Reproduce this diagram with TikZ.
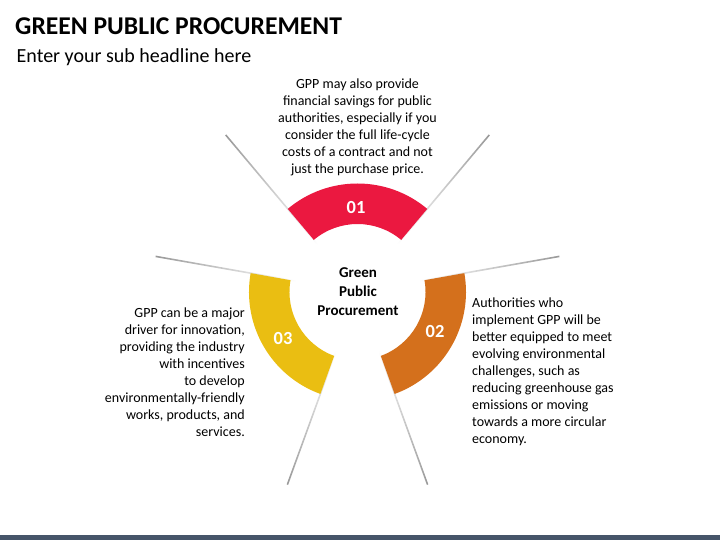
\documentclass[tikz,border=0pt]{standalone}
\usepackage{fontspec}
\setmainfont{Carlito}
\usepackage{tikz}
\usetikzlibrary{positioning}
\definecolor{gppred}{RGB}{235,24,64}
\definecolor{gpporange}{RGB}{212,112,28}
\definecolor{gppyellow}{RGB}{234,190,18}
\definecolor{barblue}{RGB}{70,85,105}
\begin{document}
\begin{tikzpicture}[x=1pt,y=1pt,
  body/.style={inner sep=0pt,font=\fontsize{14}{16.9}\selectfont},
  num/.style={text=white,font=\fontsize{18.5}{20}\selectfont\bfseries},
  ray/.style={left color=white,right color=gray!80}]
  \useasboundingbox (-357.5,-248) rectangle (362.5,292);
  \fill[barblue] (-357.5,-248) rectangle (362.5,-243);

  \node[anchor=base west,inner sep=0pt,font=\fontsize{25.6}{30}\selectfont\bfseries] (title) at (-342.5,257) {GREEN PUBLIC PROCUREMENT};
  \node[anchor=base west,inner sep=0pt,font=\fontsize{20}{24}\selectfont] (sub) at (-341,229) {Enter your sub headline here};

  % shadow edges of the three fans
  \foreach \a in {50,130,170,250,290,10}{
    \begin{scope}[transform canvas={rotate=\a}]
      \shade[ray] (62,-0.8) rectangle (205,0.8);
    \end{scope}
  }

  \fill[gppred] (50:108.5) arc[start angle=50,end angle=130,radius=108.5]
    -- (130:68) arc[start angle=130,end angle=50,radius=68] -- cycle;
  \fill[gpporange] (-70:108.5) arc[start angle=-70,end angle=10,radius=108.5]
    -- (10:68) arc[start angle=10,end angle=-70,radius=68] -- cycle;
  \fill[gppyellow] (170:108.5) arc[start angle=170,end angle=250,radius=108.5]
    -- (250:68) arc[start angle=250,end angle=170,radius=68] -- cycle;

  \node[num] (n1) at (-1.5,84) {01};
  \node[num] (n2) at (77.5,-40) {02};
  \node[num] (n3) at (-74.5,-46) {03};

  \node[align=center,font=\fontsize{15}{19}\selectfont\bfseries] (core) at (0.5,0) {Green\\Public\\Procurement};

  \node[body,align=center,anchor=north] (t1) at (0,213) {GPP may also provide\\financial savings for public\\authorities, especially if you\\consider the full life-cycle\\costs of a contract and not\\just the purchase price.};
  \node[body,align=left,anchor=north west] (t2) at (114.5,-6) {Authorities who\\implement GPP will be\\better equipped to meet\\evolving environmental\\challenges, such as\\reducing greenhouse gas\\emissions or moving\\towards a more circular\\economy.};
  \node[body,align=right,anchor=north east] (t3) at (-112.5,-16) {GPP can be a major\\driver for innovation,\\providing the industry\\with incentives\\to develop\\environmentally-friendly\\works, products, and\\services.};
\end{tikzpicture}
\end{document}
